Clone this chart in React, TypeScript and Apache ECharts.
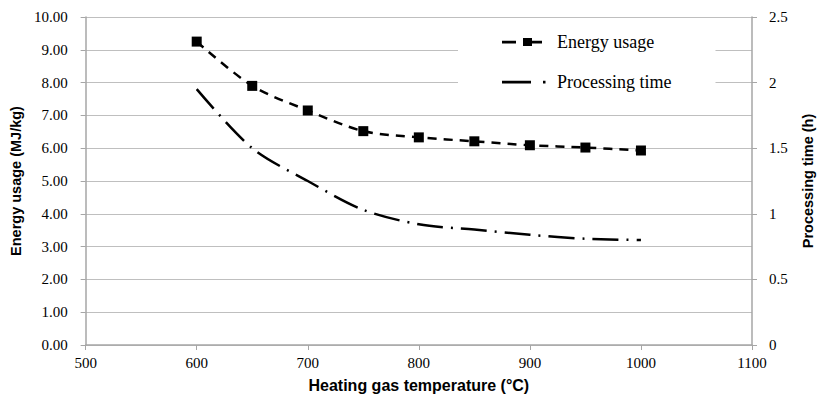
import React, { useEffect, useRef } from "react";
import * as echarts from "echarts";

const temperatures = [600, 650, 700, 750, 800, 850, 900, 950, 1000];
const energyUsage = [9.25, 7.9, 7.15, 6.52, 6.33, 6.21, 6.09, 6.02, 5.93];
const processingTime = [1.95, 1.5, 1.25, 1.03, 0.92, 0.88, 0.84, 0.81, 0.8];

const serif = "'Liberation Serif', 'Times New Roman', serif";
const sans = "'Liberation Sans', Arial, sans-serif";

const bboxCorners = "M0,0 L0.01,0 L0,0.01 Z M44,10 L43.99,10 L44,9.99 Z ";
const energyIcon =
  "path://" +
  bboxCorners +
  "M0,3.8 L14,3.8 L14,6.4 L0,6.4 Z M21,1 L30,1 L30,9 L21,9 Z M30,3.8 L40,3.8 L40,6.4 L30,6.4 Z";
const timeIcon =
  "path://" + bboxCorners + "M0,3.8 L29,3.8 L29,6.4 L0,6.4 Z M41,3.8 L43.5,3.8 L43.5,6.4 L41,6.4 Z";

export default function App() {
  const ref = useRef<HTMLDivElement>(null);
  useEffect(() => {
    if (!ref.current) return;
    const chart = echarts.init(ref.current, undefined, { renderer: "svg" });
    const axisLine = { show: true, lineStyle: { color: "#a6a6a6", width: 1.5 } };
    const axisTick = { show: true, length: 5, lineStyle: { color: "#a6a6a6" } };
    const titleStyle = { fontFamily: sans, fontWeight: "bold", color: "#000" };
    chart.setOption({
      animation: false,
      backgroundColor: "#fff",
      grid: { left: 85, right: 67, top: 17, bottom: 48 },
      legend: {
        orient: "vertical",
        left: 458,
        top: 29,
        padding: [4, 44, 6, 44],
        itemGap: 22,
        itemWidth: 44,
        itemHeight: 10,
        backgroundColor: "#fff",
        textStyle: { fontFamily: serif, fontSize: 18, color: "#000", padding: [0, 0, 0, 6] },
        data: [
          { name: "Energy usage", icon: energyIcon },
          { name: "Processing time", icon: timeIcon },
        ],
      },
      xAxis: {
        type: "value",
        min: 500,
        max: 1100,
        interval: 100,
        name: "Heating gas temperature (°C)",
        nameLocation: "middle",
        nameGap: 32,
        nameTextStyle: { ...titleStyle, fontSize: 16 },
        axisLine,
        axisTick,
        splitLine: { show: false },
        axisLabel: {
          fontFamily: serif,
          fontSize: 15,
          color: "#000",
          margin: 10,
          formatter: (v: number) => String(v),
        },
      },
      yAxis: [
        {
          type: "value",
          min: 0,
          max: 10,
          interval: 1,
          name: "Energy usage (MJ/kg)",
          nameLocation: "middle",
          nameGap: 60,
          nameTextStyle: { ...titleStyle, fontSize: 14.5 },
          axisLine,
          axisTick,
          splitLine: { show: true, lineStyle: { color: "#bfbfbf", width: 1.2 } },
          axisLabel: {
            fontFamily: serif,
            fontSize: 15,
            color: "#000",
            margin: 18,
            formatter: (v: number) => v.toFixed(2),
          },
        },
        {
          type: "value",
          min: 0,
          max: 2.5,
          interval: 0.5,
          position: "right",
          name: "Processing time (h)",
          nameLocation: "middle",
          nameGap: 48,
          nameRotate: 90,
          nameTextStyle: { ...titleStyle, fontSize: 14.5 },
          axisLine,
          axisTick,
          splitLine: { show: false },
          axisLabel: {
            fontFamily: serif,
            fontSize: 15,
            color: "#000",
            margin: 17,
            formatter: (v: number) => String(v),
          },
        },
      ],
      series: [
        {
          name: "Energy usage",
          type: "line",
          yAxisIndex: 0,
          smooth: 0.3,
          data: temperatures.map((t, i) => [t, energyUsage[i]]),
          symbol: "rect",
          symbolSize: 10,
          itemStyle: { color: "#000" },
          lineStyle: { color: "#000", width: 2.5, type: [9, 7] },
        },
        {
          name: "Processing time",
          type: "line",
          yAxisIndex: 1,
          smooth: 0.3,
          data: temperatures.map((t, i) => [t, processingTime[i]]),
          symbol: "none",
          itemStyle: { color: "#000" },
          lineStyle: { color: "#000", width: 2.5, type: [26, 8, 2, 8] },
        },
      ],
    });
    return () => chart.dispose();
  }, []);
  return (
    <div
      ref={ref}
      style={{ position: "absolute", left: 0, top: 0, width: 823, height: 398 }}
    />
  );
}
